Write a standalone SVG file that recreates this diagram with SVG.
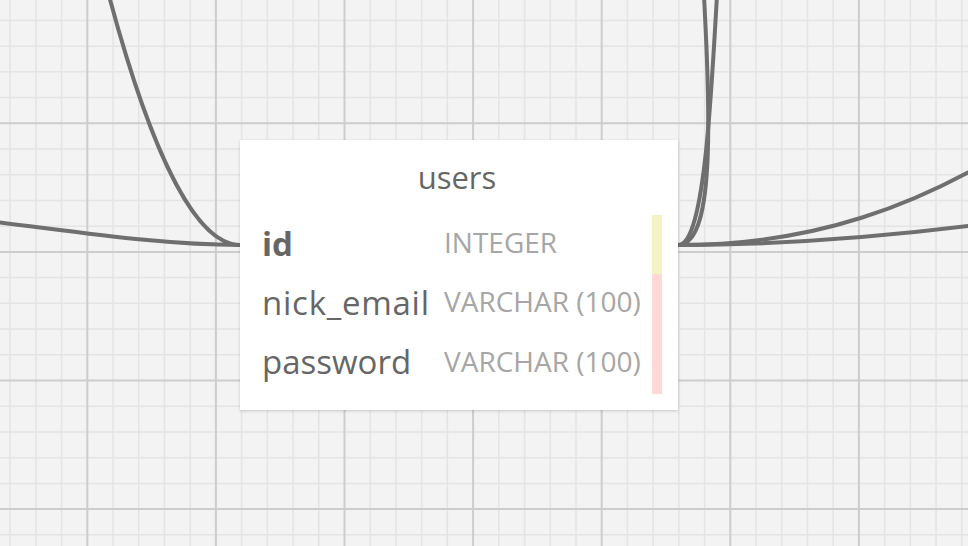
<svg xmlns="http://www.w3.org/2000/svg" width="968" height="546" viewBox="0 0 968 546">
  <defs>
    <filter id="shadow" x="-5%" y="-5%" width="110%" height="115%">
      <feDropShadow dx="0" dy="1" stdDeviation="1.5" flood-color="#000" flood-opacity="0.18"/>
    </filter>
  </defs>
  <style>
    .minor { stroke: #e4e4e4; stroke-width: 1.5; fill: none; }
    .major { stroke: #cdcdcd; stroke-width: 2; fill: none; }
    .conn { stroke: #6f6f6f; stroke-width: 4; fill: none; stroke-linecap: round; }
    .title { font-family: "Open Sans", "Noto Sans", sans-serif; font-size: 31px; fill: #666666; text-anchor: middle; }
    .fname { font-family: "Open Sans", "Noto Sans", sans-serif; font-size: 33px; fill: #666666; }
    .pk { font-weight: bold; }
    .ftype { font-family: "Open Sans", "Noto Sans", sans-serif; font-size: 28px; fill: #a6a6a6; }
  </style>
  <rect x="0" y="0" width="968" height="546" fill="#f3f3f3"/>
  <g id="grid">
    <path class="minor" d="M10.14 0V546M35.86 0V546M61.58 0V546M113.02 0V546M138.74 0V546M164.46 0V546M190.18 0V546M241.62 0V546M267.34 0V546M293.06 0V546M318.78 0V546M370.22 0V546M395.94 0V546M421.66 0V546M447.38 0V546M498.82 0V546M524.54 0V546M550.26 0V546M575.98 0V546M627.42 0V546M653.14 0V546M678.86 0V546M704.58 0V546M756.02 0V546M781.74 0V546M807.46 0V546M833.18 0V546M884.62 0V546M910.34 0V546M936.06 0V546M961.78 0V546
      M0 20.42H968M0 46.14H968M0 71.86H968M0 97.58H968M0 149.02H968M0 174.74H968M0 200.46H968M0 226.18H968M0 277.62H968M0 303.34H968M0 329.06H968M0 354.78H968M0 406.22H968M0 431.94H968M0 457.66H968M0 483.38H968M0 534.82H968"/>
    <path class="major" d="M87.3 0V546M215.9 0V546M344.5 0V546M473.1 0V546M601.7 0V546M730.3 0V546M858.9 0V546M0 123.3H968M0 251.9H968M0 380.5H968M0 509.1H968"/>
  </g>
  <g id="connectors">
    <path class="conn" d="M240 245 C195 245, 150 150, 108 -8"/>
    <path class="conn" d="M240 245 C160 245, 80 232, -20 220"/>
    <path class="conn" d="M678 245 C735 245, 694 -50, 694 -250"/>
    <path class="conn" d="M678 245 C705 245, 712 100, 722 -100"/>
    <path class="conn" d="M678 245 C800 245, 920 215, 1060 115"/>
    <path class="conn" d="M678 245 C780 245, 880 238, 1000 222"/>
  </g>
  <g id="node-users">
    <rect x="240" y="140" width="438" height="270" fill="#ffffff" filter="url(#shadow)"/>
    <text class="title" x="457" y="189">users</text>
    <rect x="652" y="215" width="10" height="59" fill="#f3f3c4"/>
    <rect x="652" y="274" width="10" height="120" fill="#ffd8d8"/>
    <text class="fname pk" x="262" y="256">id</text>
    <text class="fname" x="262" y="315" textLength="167">nick_email</text>
    <text class="fname" x="262" y="374">password</text>
    <text class="ftype" x="444" y="253">INTEGER</text>
    <text class="ftype" x="444" y="312">VARCHAR (100)</text>
    <text class="ftype" x="444" y="372">VARCHAR (100)</text>
  </g>
</svg>
